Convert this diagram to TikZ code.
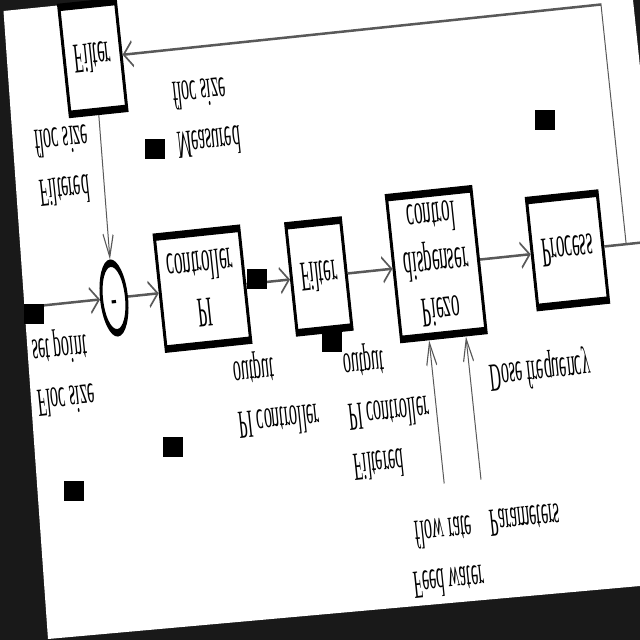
\documentclass[tikz,border=0pt]{standalone}
\usepackage{fontspec}
\setmainfont{Liberation Serif}
\usetikzlibrary{arrows.meta,shapes.geometric}

\begin{document}
\begin{tikzpicture}[x=1pt, y=1pt,
  block/.style={draw=black, line width=3pt, fill=white, inner sep=0pt, align=center,
    font=\fontsize{17}{19}\selectfont},
  sumnode/.style={ellipse, draw=black, line width=3pt, fill=white, inner sep=0pt,
    minimum width=25pt, minimum height=28pt, font=\fontsize{17}{19}\selectfont},
  lbl/.style={align=left, inner sep=0pt, font=\fontsize{16}{20}\selectfont},
  wire/.style={draw=black!65, line width=1pt},
  conn/.style={wire, -{Straight Barb[length=9pt, width=10pt]}}]

%─────────────
% Controls
%─────────────
\def\tilt{6}       % rotation of the scanned sheet
\def\stretch{2.5}  % vertical stretch of the scan
\definecolor{pagedark}{rgb}{0.1,0.1,0.1}

%─────────────
% Black blots of the scan
%─────────────
\newcommand{\blot}[2]{%
  \fill[black] ({#1},{#2}) rectangle ++(20,20);
}

\useasboundingbox (0,0) rectangle (640,640);

% sheet on a dark background
\fill[pagedark] (0,0) rectangle (640,640);
\fill[white] (3.5,629) -- (112,640) -- (633,640) -- (640,573) -- (640,54) -- (48,1) -- cycle;

%─────────────────────────────────────────────────────────────
% Loop, drawn upright and flipped onto the sheet
%─────────────────────────────────────────────────────────────
\begin{scope}[transform canvas={shift={(114,342)}, rotate=\tilt, yscale=-\stretch}]

  % blocks
  \node[sumnode] (sum) at (0,0) {-};
  \node[block, minimum width=85pt, minimum height=45pt] (pi) at (89,0) {PI\\controller};
  \node[block, minimum width=55pt, minimum height=43pt] (filt) at (206,0) {Filter};
  \node[block, minimum width=85pt, minimum height=57pt] (piezo) at (324,0) {Piezo\\dispenser\\control};
  \node[block, minimum width=71pt, minimum height=43pt] (process) at (456,0) {Process};
  \node[block, minimum width=57pt, minimum height=43pt] (fbfilter) at (4,-96.4) {Filter};

  % free ends
  \coordinate (setin) at (-85,0);
  \coordinate (branch) at (515,0);
  \coordinate (outend) at (560,0);
  \coordinate (feedA) at (309,87.6);
  \coordinate (feedB) at (346,87.6);

  % forward path
  \draw[conn] (setin) -- (sum.west);
  \draw[conn] (sum.east) -- (pi.west);
  \draw[conn] (pi.east) -- (filt.west);
  \draw[conn] (filt.east) -- (piezo.west);
  \draw[conn] (piezo.east) -- (process.west);
  \draw[wire] (process.east) -- (outend);

  % feedback path
  \draw[conn] (branch) |- (fbfilter.east);
  \draw[conn] (fbfilter.north) -- (sum.south);

  % inputs of the dispenser
  \draw[conn] (feedA) -- (feedA |- piezo.north);
  \draw[conn] (feedB) -- (feedB |- piezo.north);

  % labels
  \node[lbl, anchor=west] (setlbl) at (-87,27.3) {Floc size\\set point};
  \node[lbl, anchor=west] (fblbl) at (-63,-54.5) {Filtered\\floc size};
  \node[lbl, anchor=west] (measlbl) at (79,-67.7) {Measured\\floc size};
  \node[lbl, anchor=west] (pioutlbl) at (111,44.5) {PI controller\\output};
  \node[lbl, anchor=west] (filtlbl) at (221,56) {Filtered\\PI controller\\output};
  \node[lbl] (doselbl) at (416,46.4) {Dose frequency};
  \node[lbl, align=center] (feedlbl) at (303.5,117) {Feed water\\flow rate};
  \node[lbl] (parlbl) at (385.5,105.5) {Parameters};

\end{scope}

%─────────────
% Blots
%─────────────
\blot{24}{316}
\blot{145}{481}
\blot{535}{510}
\blot{247}{351}
\blot{322}{288}
\blot{163}{183}
\blot{64}{139}

\end{tikzpicture}
\end{document}
